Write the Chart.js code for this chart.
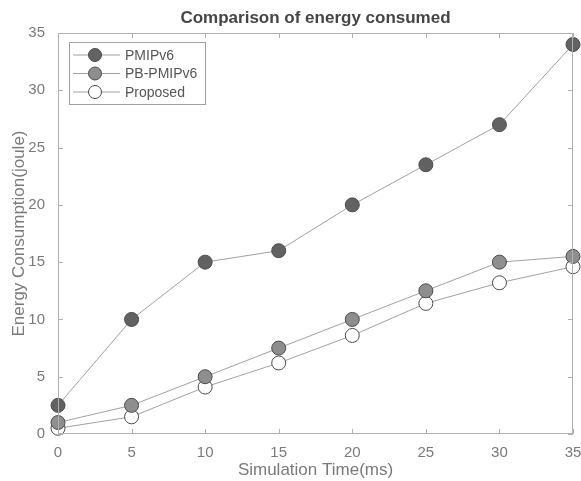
<!DOCTYPE html>
<html>
<head>
<meta charset="utf-8">
<script src="https://cdn.jsdelivr.net/npm/chart.js@4.4.1/dist/chart.umd.min.js"></script>
<style>
  html, body { margin: 0; padding: 0; background: #fff; }
  #wrap { width: 581px; height: 481px; }
</style>
</head>
<body>
<div id="wrap"><canvas id="energyChart" width="581" height="481"></canvas></div>
<script>
// Chart data
const simTimes = [0, 5, 10, 15, 20, 25, 30, 35];
const pmipv6 = [2.5, 10, 15, 16, 20, 23.5, 27, 34];
const pbPmipv6 = [1, 2.5, 5, 7.5, 10, 12.5, 15, 15.5];
const proposed = [0.5, 1.5, 4.1, 6.2, 8.6, 11.4, 13.2, 14.6];
const seriesNames = ['PMIPv6', 'PB-PMIPv6', 'Proposed'];
const xTicks = [0, 5, 10, 15, 20, 25, 30, 35];
const yTicks = [0, 5, 10, 15, 20, 25, 30, 35];

const FONT = '"Liberation Sans", Arial, sans-serif';
const fills = ['#626262', '#8e8e8e', '#ffffff'];

function makeSet(label, values, fill) {
  return {
    label: label,
    data: values.map((v, i) => ({ x: simTimes[i], y: v })),
    borderColor: '#a0a0a0',
    borderWidth: 1,
    pointRadius: 7,
    pointBackgroundColor: fill,
    pointBorderColor: '#4a4a4a',
    pointBorderWidth: 1,
    clip: false
  };
}

// frame, inward ticks, title and legend drawn on top of the library scales
const framePlugin = {
  id: 'frame',
  afterDatasetsDraw(chart) {
    const { ctx, chartArea: a, scales } = chart;
    ctx.save();
    ctx.strokeStyle = '#b0b0b0';
    ctx.lineWidth = 1;
    ctx.strokeRect(a.left + 0.5, a.top + 0.5, a.right - a.left - 1, a.bottom - a.top - 1);
    ctx.beginPath();
    xTicks.forEach(t => {
      const px = Math.round(scales.x.getPixelForValue(t)) + 0.5;
      ctx.moveTo(px, a.bottom); ctx.lineTo(px, a.bottom - 5);
      ctx.moveTo(px, a.top); ctx.lineTo(px, a.top + 5);
    });
    yTicks.forEach(t => {
      const py = Math.round(scales.y.getPixelForValue(t)) + 0.5;
      ctx.moveTo(a.left, py); ctx.lineTo(a.left + 5, py);
      ctx.moveTo(a.right, py); ctx.lineTo(a.right - 5, py);
    });
    ctx.stroke();

    // title
    ctx.fillStyle = '#454545';
    ctx.font = 'bold 17px ' + FONT;
    ctx.textAlign = 'center';
    ctx.textBaseline = 'middle';
    ctx.fillText('Comparison of energy consumed', (a.left + a.right) / 2, 18);

    // legend box
    const lx = a.left + 11, ly = a.top + 9, lw = 136, lh = 62;
    ctx.fillStyle = '#ffffff';
    ctx.fillRect(lx, ly, lw, lh);
    ctx.strokeStyle = '#a0a0a0';
    ctx.strokeRect(lx + 0.5, ly + 0.5, lw, lh);
    ctx.font = '14px ' + FONT;
    ctx.textAlign = 'left';
    chart.data.datasets.forEach((ds, i) => {
      const cy = ly + 13 + i * 18.5;
      ctx.strokeStyle = ds.borderColor;
      ctx.beginPath();
      ctx.moveTo(lx + 4, cy); ctx.lineTo(lx + 51, cy);
      ctx.stroke();
      ctx.beginPath();
      ctx.arc(lx + 26, cy, 6.5, 0, Math.PI * 2);
      ctx.fillStyle = ds.pointBackgroundColor;
      ctx.fill();
      ctx.strokeStyle = ds.pointBorderColor;
      ctx.stroke();
      ctx.fillStyle = '#555555';
      ctx.fillText(ds.label, lx + 56, cy + 1);
    });
    ctx.restore();
  }
};

const chart = new Chart(document.getElementById('energyChart').getContext('2d'), {
  type: 'line',
  data: {
    datasets: [
      makeSet(seriesNames[0], pmipv6, fills[0]),
      makeSet(seriesNames[1], pbPmipv6, fills[1]),
      makeSet(seriesNames[2], proposed, fills[2])
    ]
  },
  options: {
    responsive: false,
    animation: false,
    layout: { padding: { top: 33, right: 4, left: 0, bottom: 0 } },
    plugins: { legend: { display: false }, title: { display: false }, tooltip: { enabled: false } },
    scales: {
      x: {
        type: 'linear',
        min: 0, max: 35,
        afterBuildTicks: s => { s.ticks = xTicks.map(v => ({ value: v })); },
        afterFit: s => { s.height = 47; s.paddingRight = 0; s.paddingLeft = 0; },
        grid: { display: false },
        border: { display: false },
        ticks: { color: '#7a7a7a', font: { family: FONT, size: 15 }, padding: 2, maxRotation: 0 },
        title: { display: true, text: 'Simulation Time(ms)', color: '#7a7a7a', font: { family: FONT, size: 17 }, padding: { top: -3, bottom: 0 } }
      },
      y: {
        type: 'linear',
        min: 0, max: 35,
        afterBuildTicks: s => { s.ticks = yTicks.map(v => ({ value: v })); },
        afterFit: s => { s.width = 58; s.paddingTop = 0; s.paddingBottom = 0; },
        grid: { display: false },
        border: { display: false },
        ticks: { color: '#7a7a7a', font: { family: FONT, size: 15 }, padding: 5 },
        title: { display: true, text: 'Energy Consumption(joule)', color: '#7a7a7a', font: { family: FONT, size: 17 }, padding: { top: 9, bottom: 0 } }
      }
    }
  },
  plugins: [framePlugin]
});
</script>
</body>
</html>
